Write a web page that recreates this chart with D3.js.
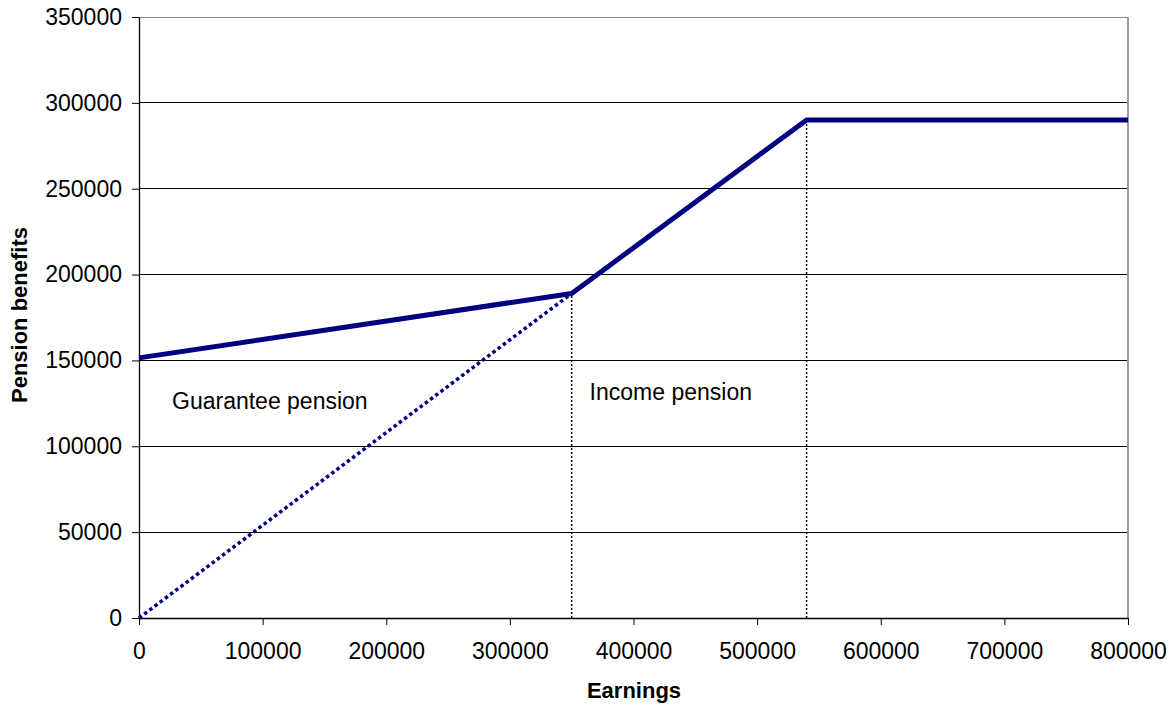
<!DOCTYPE html>
<html><head><meta charset="utf-8">
<script src="https://cdn.jsdelivr.net/npm/d3@7"></script>
<style>body{margin:0;background:#fff;} svg{display:block;} text{font-family:"Liberation Sans",Arial,sans-serif;}</style>
</head><body>
<svg id="c" width="1173" height="706"></svg>
<script>
const xTicks = [0,100000,200000,300000,400000,500000,600000,700000,800000];
const yTicks = [0,50000,100000,150000,200000,250000,300000,350000];
const totalX = [0, 350000, 540000, 800000];
const totalY = [151500, 189000, 290000, 290000];
const incomeX = [0, 350000];
const incomeY = [0, 189000];
const markerX = [350000, 540000];
const markerY = [189000, 290000];
const labels = ["Guarantee pension", "Income pension"];
const labelX = [26700, 364500];
const labelY = [121700, 127000];

const svg = d3.select("#c");
const L=139, R=1128, T=17, B=618;
const x = d3.scaleLinear().domain([0,800000]).range([L,R]);
const y = d3.scaleLinear().domain([0,350000]).range([B,T]);

// gridlines
svg.append("g").selectAll("line").data(yTicks.filter(d=>d>0&&d<350000)).join("line")
  .attr("x1",L).attr("x2",R).attr("y1",d=>y(d)).attr("y2",d=>y(d))
  .attr("stroke","#000").attr("stroke-width",1).attr("shape-rendering","crispEdges");
// top & right border
svg.append("line").attr("x1",L).attr("x2",R).attr("y1",T).attr("y2",T).attr("stroke","#888").attr("stroke-width",1).attr("shape-rendering","crispEdges");
svg.append("line").attr("x1",R).attr("x2",R).attr("y1",T).attr("y2",B).attr("stroke","#999").attr("stroke-width",2).attr("shape-rendering","crispEdges");

// axes
const ax = svg.append("g").attr("transform",`translate(0,${B})`)
  .call(d3.axisBottom(x).tickValues(xTicks).tickFormat(d3.format("d")).tickSize(7).tickSizeOuter(0).tickPadding(18));
const ay = svg.append("g").attr("transform",`translate(${L},0)`)
  .call(d3.axisLeft(y).tickValues(yTicks).tickFormat(d3.format("d")).tickSize(7).tickSizeOuter(0).tickPadding(10));
[ax,ay].forEach(g=>{
  g.select(".domain").attr("stroke","#000").attr("stroke-width",1.3);
  g.selectAll(".tick line").attr("stroke","#000").attr("stroke-width",1);
  g.selectAll(".tick text").attr("font-size",23).attr("fill","#000").attr("font-family","'Liberation Sans',Arial,sans-serif");
});

// vertical dotted markers
svg.append("g").selectAll("line").data(markerX).join("line")
  .attr("x1",d=>x(d)).attr("x2",d=>x(d)).attr("y1",B).attr("y2",(d,i)=>y(markerY[i]))
  .attr("stroke","#000").attr("stroke-width",1.5).attr("stroke-dasharray","2,2");

const line = d3.line().x(d=>x(d[0])).y(d=>y(d[1]));
// income pension dotted
svg.append("path").datum(incomeX.map((v,i)=>[v,incomeY[i]])).attr("d",line)
  .attr("fill","none").attr("stroke","#000080").attr("stroke-width",3.5).attr("stroke-dasharray","3.5,3");
// total pension solid
svg.append("path").datum(totalX.map((v,i)=>[v,totalY[i]])).attr("d",line)
  .attr("fill","none").attr("stroke","#000080").attr("stroke-width",5).attr("stroke-linejoin","round");

// labels
svg.append("g").selectAll("text").data(labels).join("text")
  .attr("x",(d,i)=>x(labelX[i])).attr("y",(d,i)=>y(labelY[i])).attr("font-size",23).attr("fill","#000").text(d=>d);

// axis titles
svg.append("text").attr("x",634).attr("y",698).attr("text-anchor","middle").attr("font-size",22).attr("font-weight","bold").text("Earnings");
svg.append("text").attr("transform",`translate(27,315) rotate(-90)`).attr("text-anchor","middle").attr("font-size",22).attr("font-weight","bold").text("Pension benefits");
</script>
</body></html>
